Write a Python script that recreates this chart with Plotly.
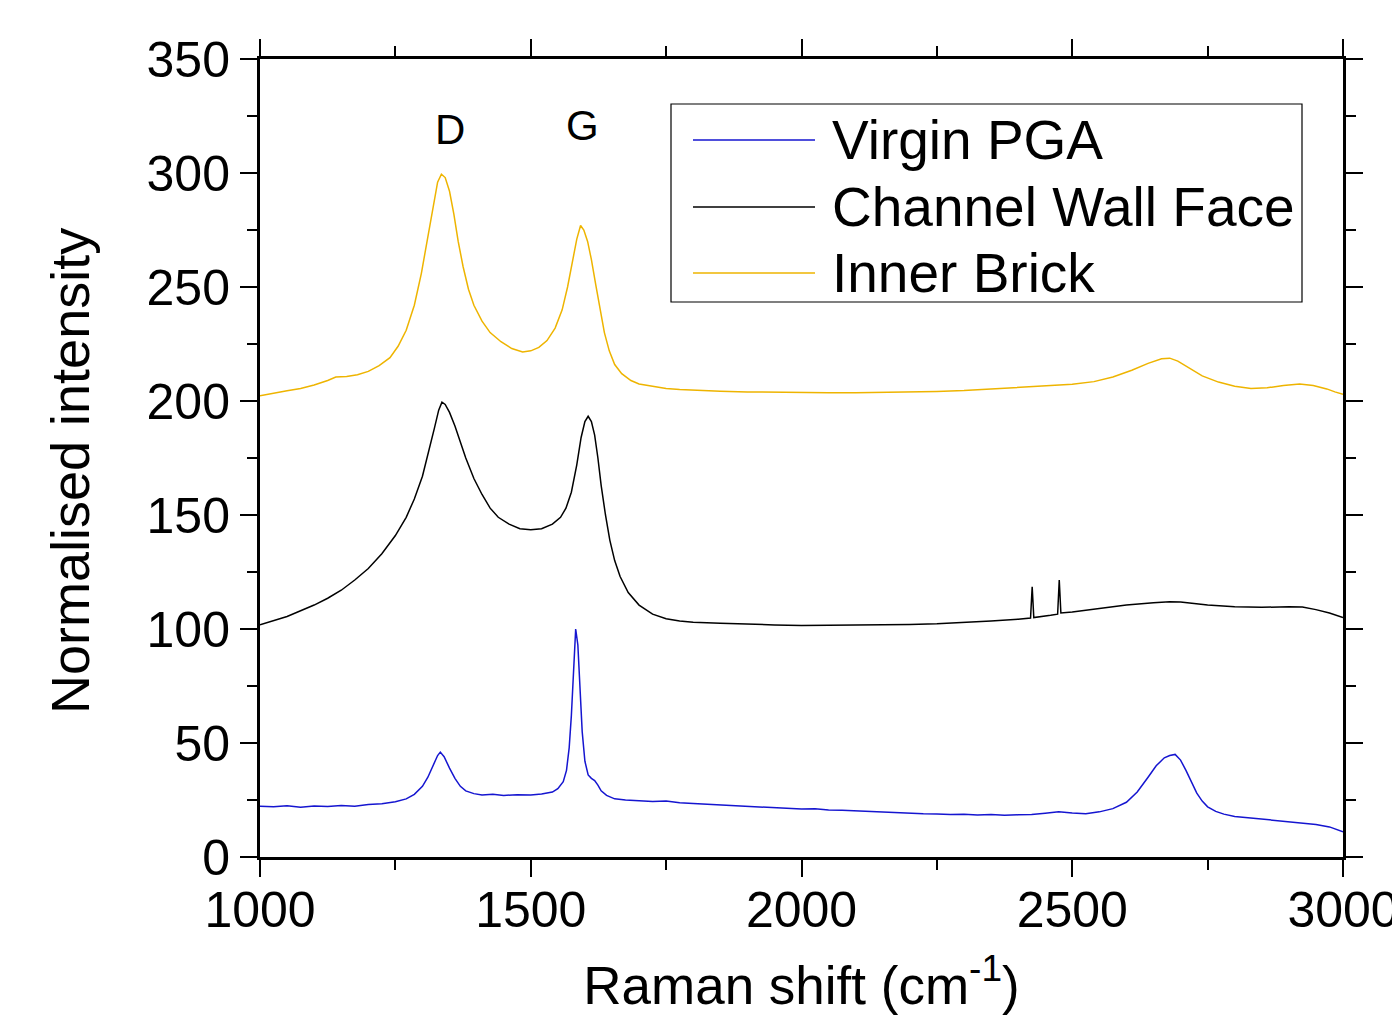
import plotly.graph_objects as go

# ---------------- data ----------------
virgin_x = [1000,1025,1050,1075,1100,1125,1150,1175,1200,1225,1250,1270,1285,1300,1310,1320,1328,1333,1340,1350,
            1360,1370,1380,1395,1410,1430,1450,1475,1500,1520,1540,1550,1560,1566,1571,1575,1579,1583,1587,1591,
            1595,1600,1606,1612,1618,1624,1630,1640,1655,1675,1700,1725,1750,1775,1800,1825,1850,1875,1900,1925,
            1950,1975,2000,2025,2050,2075,2100,2125,2150,2175,2200,2225,2250,2275,2300,2325,2350,2375,2400,2425,
            2450,2475,2500,2525,2550,2575,2600,2620,2640,2655,2670,2680,2690,2700,2710,2720,2730,2740,2750,2765,
            2780,2800,2825,2850,2875,2900,2925,2950,2975,3000]
virgin_y = [22.3,22.0,22.5,21.8,22.4,22.1,22.6,22.3,23.0,23.4,24.2,25.5,27.5,31,35,40,44.5,46,44,39,
            34.5,31,29,27.8,27.2,27.5,27,27.3,27.2,27.6,28.5,30,33,38,48,62,84,100,93,74,
            55,42,36,34.5,33.5,31.5,29,27,25.5,25,24.8,24.3,24.6,23.8,23.5,23.2,23.0,22.6,22.2,22.0,
            21.6,21.5,21.0,21.2,20.6,20.5,20.2,19.9,19.7,19.5,19.3,19.0,18.9,18.6,18.7,18.4,18.6,18.3,18.5,18.6,
            19.2,19.8,19.3,19.0,19.8,21.2,24,28.5,35,40,43.5,44.5,45,42.5,38,33,28,24.5,22,20,
            18.8,17.8,17.2,16.5,16.0,15.5,15.0,14.3,13.2,11.0]

channel_x = [1000,1025,1050,1075,1100,1125,1150,1175,1200,1225,1250,1270,1285,1300,1312,1322,1330,1336,1342,1350,
             1360,1370,1380,1395,1410,1425,1440,1460,1480,1500,1520,1540,1555,1565,1575,1585,1593,1600,1606,1612,
             1618,1624,1630,1638,1646,1655,1665,1680,1700,1725,1750,1775,1800,1850,1900,1950,2000,2050,2100,2150,
             2200,2250,2300,2350,2400,2423,2426,2429,2460,2473,2476,2479,2500,2550,2600,2650,2680,2700,2750,2800,
             2850,2900,2925,2950,2975,3000]
channel_y = [101.8,103.5,105.5,108,110.5,113.5,117,121.5,126.5,133,141,149,157,167,178,188,196,199.5,198.5,195,
             189,182,175,166,159,153,149,146,144,143.5,144,146,149,153,160,172,184,191,193.3,191,
             185,175,163,150,139,130,123,116,110.5,106.5,104.5,103.5,103,102.5,102,101.8,101.5,101.6,101.5,101.7,
             102,102.3,102.8,103.5,104.3,104.8,118.5,105,106,106.5,121.5,107,107.5,109,110.5,111.5,112,111.8,110.5,109.8,
             109.5,109.8,109.6,108.5,107,105]

inner_x = [1000,1025,1050,1075,1100,1125,1140,1160,1180,1200,1220,1240,1255,1270,1285,1298,1310,1320,1328,1335,
           1342,1350,1358,1366,1375,1385,1395,1410,1425,1445,1465,1485,1500,1515,1530,1545,1558,1568,1577,1585,
           1592,1598,1605,1612,1620,1628,1636,1645,1655,1668,1685,1700,1725,1750,1775,1800,1850,1900,1950,2000,
           2050,2100,2150,2200,2250,2300,2350,2400,2450,2500,2540,2575,2610,2640,2665,2680,2695,2715,2740,2770,
           2800,2830,2860,2890,2920,2945,2970,2985,3000]
inner_y = [202.3,203.5,204.5,205.5,207,209,210.5,210.8,211.5,213,215.5,219,224,231,242,256,272,287,296,299.5,
           298,292,282,270,259,249,242,235,230,226,223,221.5,222,223.5,226.5,232,240,250,262,271,
           277,275,270,262,251,240,230,222,216,212,209,207.5,206.5,205.5,205,204.7,204.3,204,203.8,203.7,
           203.6,203.6,203.7,203.8,204.2,204.6,205.2,205.8,206.5,207.3,208.5,210.5,213.5,216.5,218.5,218.8,217.5,214.5,211,208.3,
           206.5,205.5,205.8,206.8,207.5,206.8,205.3,204,203]

series_names = ["Virgin PGA", "Channel Wall Face", "Inner Brick"]
series_colors = ["#1515D0", "#000000", "#EEB400"]

peak_labels = ["D", "G"]
peak_x = [1351, 1595]
peak_y = [319, 321]

x_ticks = [1000, 1500, 2000, 2500, 3000]
y_ticks = [0, 50, 100, 150, 200, 250, 300, 350]

FONT = "Liberation Sans, Arial, sans-serif"

# layout geometry (pixels); page body adds an 8px offset
W, H = 1400, 1019
ML, MR, MT, MB = 252, 65, 51, 170
PW, PH = W - ML - MR, H - MT - MB
OFF = 8

def px2paper_x(px):
    return (px - OFF - ML) / PW

def px2paper_y(py):
    return (H - MB - (py - OFF)) / PH

fig = go.Figure()
for xs, ys, name, col in zip([virgin_x, channel_x, inner_x], [virgin_y, channel_y, inner_y],
                             series_names, series_colors):
    fig.add_trace(go.Scatter(x=xs, y=ys, mode="lines", name=name,
                             line=dict(color=col, width=1.5), showlegend=False))

for lab, px_, py_ in zip(peak_labels, peak_x, peak_y):
    fig.add_annotation(x=px_, y=py_, text=lab, showarrow=False,
                       font=dict(family=FONT, size=42, color="black"))

# y-axis title placed as rotated text
fig.add_annotation(xref="paper", yref="paper", x=px2paper_x(70), y=px2paper_y(471),
                   text="Normalised intensity", textangle=-90, showarrow=False,
                   xanchor="center", yanchor="middle",
                   font=dict(family=FONT, size=54, color="black"))

# legend box drawn by hand (to match line-sample length and row spacing)
leg_left, leg_right, leg_top, leg_bottom = 671, 1302, 104, 302
fig.add_shape(type="rect", xref="paper", yref="paper",
              x0=px2paper_x(leg_left), x1=px2paper_x(leg_right),
              y0=px2paper_y(leg_bottom), y1=px2paper_y(leg_top),
              line=dict(color="black", width=1.2), fillcolor="white", layer="above")
row_centers = [140, 207, 273]
for name, col, rc in zip(series_names, series_colors, row_centers):
    fig.add_shape(type="line", xref="paper", yref="paper",
                  x0=px2paper_x(693), x1=px2paper_x(815),
                  y0=px2paper_y(rc), y1=px2paper_y(rc),
                  line=dict(color=col, width=1.3), layer="above")
    fig.add_annotation(xref="paper", yref="paper", x=px2paper_x(830), y=px2paper_y(rc),
                       xanchor="left", yanchor="middle", text=name, showarrow=False,
                       font=dict(family=FONT, size=55, color="black"))

axis_common = dict(showline=True, linecolor="black", linewidth=3, mirror="allticks",
                   ticks="outside", ticklen=17, tickwidth=2, tickcolor="black",
                   showgrid=False, zeroline=False, automargin=False,
                   tickfont=dict(family=FONT, size=50, color="black"))

fig.update_xaxes(range=[1000, 3000], tickvals=x_ticks, ticklabelstandoff=-10,
                 minor=dict(ticks="outside", ticklen=10, tickwidth=2, tickcolor="black", dtick=250, tick0=1000),
                 title=dict(text="Raman shift (cm<sup>-1</sup>)", font=dict(family=FONT, size=53, color="black"),
                            standoff=30),
                 **axis_common)
fig.update_yaxes(range=[0, 350], tickvals=y_ticks,
                 minor=dict(ticks="outside", ticklen=10, tickwidth=2, tickcolor="black", dtick=25, tick0=0),
                 **axis_common)

fig.update_layout(
    width=W, height=H,
    margin=dict(l=ML, r=MR, t=MT, b=MB),
    paper_bgcolor="white", plot_bgcolor="white",
    showlegend=False,
)

fig.write_html("out.html")
